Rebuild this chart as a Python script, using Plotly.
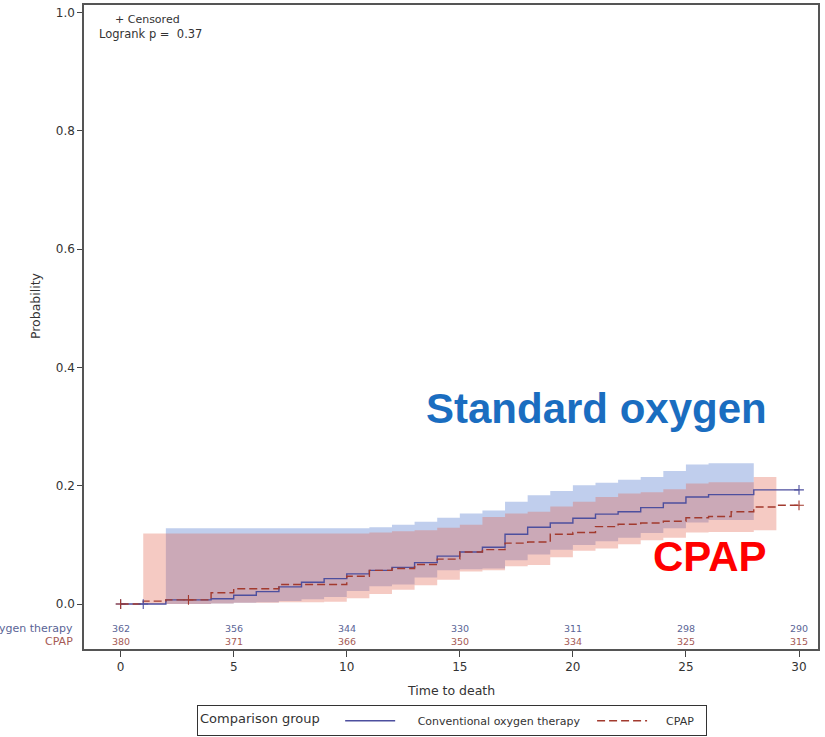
import plotly.graph_objects as go

# Kaplan-Meier cumulative probability of death by day, per group
days = list(range(0, 31))
conv_fail = [0, 0, 0.007, 0.007, 0.009, 0.015, 0.021, 0.029, 0.037, 0.043,
             0.051, 0.057, 0.062, 0.070, 0.081, 0.088, 0.096, 0.118, 0.130, 0.137,
             0.145, 0.152, 0.156, 0.163, 0.171, 0.181, 0.185, 0.185, 0.193, 0.193, 0.193]
cpap_fail = [0, 0.005, 0.007, 0.007, 0.019, 0.026, 0.026, 0.033, 0.033, 0.033,
             0.047, 0.057, 0.060, 0.067, 0.076, 0.088, 0.092, 0.103, 0.105, 0.118,
             0.121, 0.131, 0.135, 0.137, 0.140, 0.146, 0.148, 0.156, 0.164, 0.167, 0.167]

# Confidence bands (step values from first to last event time)
conv_band_days = list(range(2, 29))
conv_lower = [0.000, 0.000, 0.001, 0.002, 0.003, 0.005, 0.008, 0.012, 0.022, 0.030,
              0.033, 0.045, 0.057, 0.059, 0.060, 0.074, 0.084, 0.092, 0.100, 0.106,
              0.112, 0.120, 0.128, 0.138, 0.142, 0.142, 0.142]
conv_upper = [0.128, 0.128, 0.128, 0.128, 0.128, 0.128, 0.128, 0.128, 0.128, 0.130,
              0.134, 0.139, 0.146, 0.153, 0.158, 0.173, 0.184, 0.191, 0.201, 0.205,
              0.210, 0.215, 0.225, 0.236, 0.238, 0.238, 0.238]
cpap_band_days = list(range(1, 30))
cpap_lower = [0.000, 0.000, 0.000, 0.001, 0.002, 0.002, 0.003, 0.003, 0.004, 0.010,
              0.017, 0.024, 0.032, 0.041, 0.055, 0.057, 0.064, 0.066, 0.079, 0.090,
              0.094, 0.101, 0.108, 0.112, 0.121, 0.122, 0.122, 0.125, 0.125]
cpap_upper = [0.1195, 0.1195, 0.1195, 0.1195, 0.1195, 0.1195, 0.1195, 0.1195, 0.1195, 0.1195,
              0.121, 0.123, 0.125, 0.129, 0.134, 0.147, 0.153, 0.156, 0.165, 0.173,
              0.181, 0.187, 0.189, 0.194, 0.204, 0.206, 0.206, 0.215, 0.215]

# Censoring times
conv_censor_days = [0, 1, 30]
cpap_censor_days = [0, 3, 30]

# Number at risk
risk_days = [0, 5, 10, 15, 20, 25, 30]
conv_at_risk = [362, 356, 344, 330, 311, 298, 290]
cpap_at_risk = [380, 371, 366, 350, 334, 325, 315]

group_names = ["Conventional oxygen therapy", "CPAP"]
logrank_p = 0.37

CONV_LINE = "#4d4f9e"
CPAP_LINE = "#a23a2e"
CONV_FILL = "rgba(80,118,205,0.36)"
CPAP_FILL = "rgba(227,100,80,0.34)"
FONT = "DejaVu Sans, Verdana, sans-serif"
BIG_FONT = "Liberation Sans, Arial, sans-serif"
NB = "\u00a0"


def step_at(t, xs, ys):
    val = ys[0]
    for x, y in zip(xs, ys):
        if x <= t:
            val = y
    return val


fig = go.Figure()

# confidence bands
for bdays, lo, hi, fill in [(conv_band_days, conv_lower, conv_upper, CONV_FILL),
                            (cpap_band_days, cpap_lower, cpap_upper, CPAP_FILL)]:
    fig.add_trace(go.Scatter(x=bdays, y=lo, mode="lines", line=dict(width=0, shape="hv"),
                             showlegend=False, hoverinfo="skip"))
    fig.add_trace(go.Scatter(x=bdays, y=hi, mode="lines", line=dict(width=0, shape="hv"),
                             fill="tonexty", fillcolor=fill, showlegend=False,
                             hoverinfo="skip"))

# step curves
fig.add_trace(go.Scatter(x=days, y=conv_fail, mode="lines",
                         name=NB * 5 + group_names[0] + NB * 2,
                         line=dict(color=CONV_LINE, width=1.4, shape="hv")))
fig.add_trace(go.Scatter(x=days, y=cpap_fail, mode="lines",
                         name=NB * 4 + group_names[1] + NB * 2,
                         line=dict(color=CPAP_LINE, width=1.4, shape="hv", dash="8px,4px")))

# censor marks
for cdays, ys, col in [(conv_censor_days, conv_fail, CONV_LINE),
                       (cpap_censor_days, cpap_fail, CPAP_LINE)]:
    fig.add_trace(go.Scatter(
        x=cdays, y=[step_at(t, days, ys) for t in cdays], mode="markers",
        marker=dict(symbol="cross-thin", size=7, line=dict(width=1.1, color=col)),
        showlegend=False, hoverinfo="skip"))

annotations = []
# number-at-risk rows
for vals, yv, col in [(conv_at_risk, -0.0405, "#5a6496"), (cpap_at_risk, -0.064, "#a55a55")]:
    for d, v in zip(risk_days, vals):
        annotations.append(dict(x=d, y=yv, xref="x", yref="y", text=str(v), showarrow=False,
                                xanchor="center", yanchor="middle",
                                font=dict(family=FONT, size=9.5, color=col)))
annotations.append(dict(x=-0.012, y=-0.0405, xref="paper", yref="y", text=group_names[0],
                        xanchor="right", yanchor="middle", showarrow=False,
                        font=dict(family=FONT, size=11, color="#5a6496")))
annotations.append(dict(x=-0.012, y=-0.064, xref="paper", yref="y", text=group_names[1],
                        xanchor="right", yanchor="middle", showarrow=False,
                        font=dict(family=FONT, size=11, color="#a55a55")))

# inset text
annotations.append(dict(x=0.087, y=0.978, xref="paper", yref="paper", text="+ Censored",
                        xanchor="center", yanchor="middle", showarrow=False,
                        font=dict(family=FONT, size=11, color="#333")))
annotations.append(dict(x=0.09, y=0.955, xref="paper", yref="paper",
                        text=f"Logrank p =  {logrank_p:.2f}",
                        xanchor="center", yanchor="middle", showarrow=False,
                        font=dict(family=FONT, size=11.5, color="#333")))

# axis titles
annotations.append(dict(x=0.5, y=-0.064, xref="paper", yref="paper", text="Time to death",
                        showarrow=False, xanchor="center", yanchor="middle",
                        font=dict(family=FONT, size=12.5, color="#333")))
annotations.append(dict(x=-0.0668, y=0.534, xref="paper", yref="paper", text="Probability",
                        showarrow=False, textangle=-90, xanchor="center", yanchor="middle",
                        font=dict(family=FONT, size=12.5, color="#333")))

# group call-outs
annotations.append(dict(x=21.05, y=0.331, xref="x", yref="y", text="Standard oxygen",
                        showarrow=False, xanchor="center", yanchor="middle",
                        font=dict(family=BIG_FONT, size=42, color="#1a6dc0", weight="bold")))
annotations.append(dict(x=26.05, y=0.081, xref="x", yref="y", text="CPAP",
                        showarrow=False, xanchor="center", yanchor="middle",
                        font=dict(family=BIG_FONT, size=42, color="#ff0000", weight="bold")))

fig.update_layout(
    width=825, height=737,
    margin=dict(l=84, r=7, t=5, b=88, autoexpand=False),
    paper_bgcolor="white", plot_bgcolor="white",
    font=dict(family=FONT, size=12, color="#333"),
    annotations=annotations,
    showlegend=True,
    legend=dict(orientation="h", x=0.154, xanchor="left", y=-0.1355, yanchor="bottom",
                traceorder="normal", itemwidth=50,
                title=dict(text="Comparison group" + NB * 3,
                           font=dict(family=FONT, size=13, color="#333")),
                font=dict(family=FONT, size=11, color="#333"),
                bordercolor="#333", borderwidth=1, bgcolor="white"),
)
fig.update_xaxes(range=[-1.62, 30.84], tickvals=risk_days, ticks="outside", ticklen=6,
                 tickcolor="#444", showgrid=False, zeroline=False, showline=True,
                 mirror=True, linecolor="#555", linewidth=1.5,
                 tickfont=dict(family=FONT, size=12, color="#333"))
fig.update_yaxes(range=[-0.076, 1.013], tickvals=[0, 0.2, 0.4, 0.6, 0.8, 1.0],
                 tickformat=".1f", ticks="outside", ticklen=5, tickcolor="#444",
                 showgrid=False, zeroline=False, showline=True, mirror=True,
                 linecolor="#555", linewidth=1.5,
                 tickfont=dict(family=FONT, size=12, color="#333"))

fig.write_html("out.html")
